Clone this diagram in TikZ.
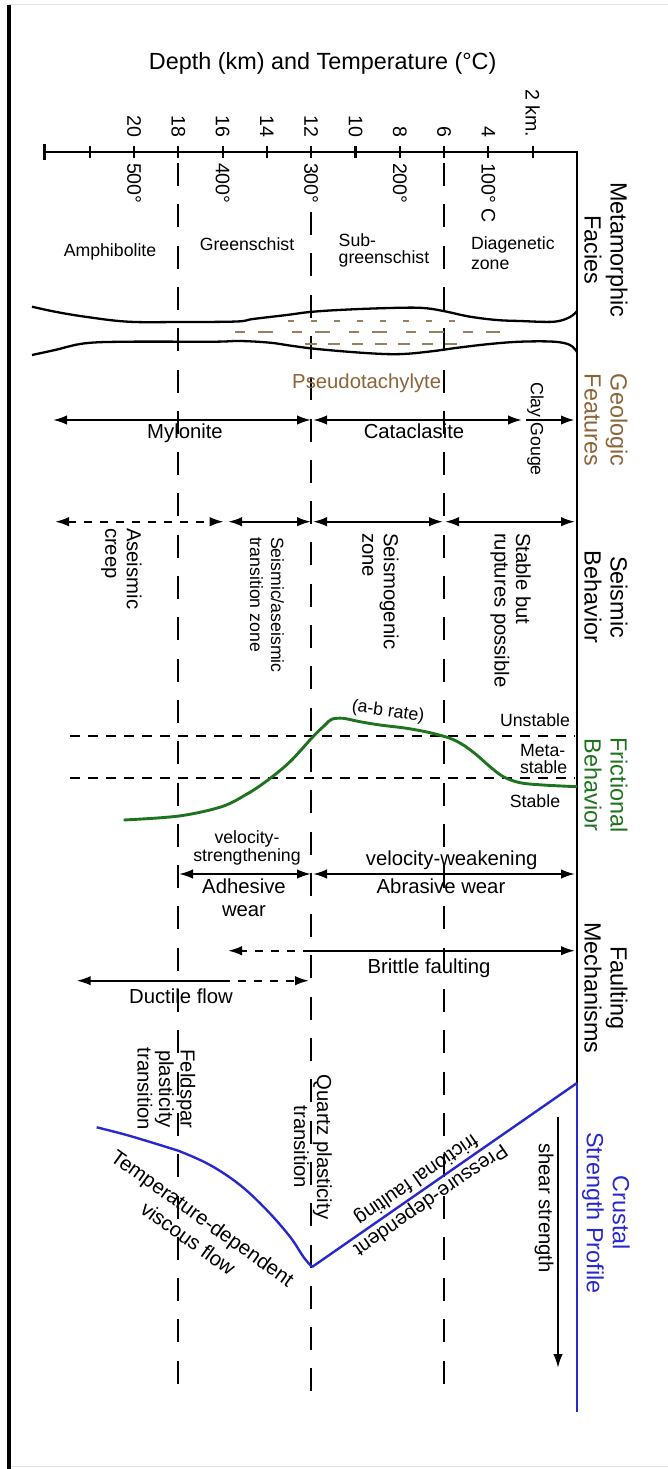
\documentclass[tikz,border=0pt]{standalone}
\usepackage{fontspec}
\setmainfont{Liberation Sans}
\usetikzlibrary{arrows.meta}
\definecolor{geobrown}{RGB}{140,100,55}
\definecolor{dashbrown}{RGB}{150,128,95}
\definecolor{fricgreen}{RGB}{30,115,30}
\definecolor{profblue}{RGB}{40,40,205}
\newcommand\fntA{\fontsize{23.4}{26}\selectfont}
\newcommand\fntB{\fontsize{20.3}{21.5}\selectfont}
\newcommand\fntC{\fontsize{17.7}{17.5}\selectfont}
\newcommand\fntT{\fontsize{19.6}{22}\selectfont}
\begin{document}
\begin{tikzpicture}[x=1pt,y=-1pt,
  >={Latex[length=14pt,width=9.5pt]},
  every node/.style={inner sep=0pt,outer sep=0pt},
  vline/.style={line width=2.3pt,dash pattern=on 23pt off 18.3pt},
  hdash/.style={line width=1.9pt,dash pattern=on 10pt off 8pt},
  arr/.style={line width=2pt},
  adash/.style={dash pattern=on 8pt off 8pt},
  rot/.style={rotate=-90},
  cat/.style={rotate=-90,align=center,font=\fntA},
  lab/.style={font=\fntB},
  sml/.style={font=\fntC},
  tck/.style={font=\fntT,rotate=-90},
  prof/.style={profblue,line width=2.4pt}]
\useasboundingbox (0,0) rectangle (668,1469);
% frame
\draw[gray!22,line width=1pt] (9,5) -- (668,5);
\draw[gray!22,line width=1pt] (9,1466.5) -- (668,1466.5);
\draw[line width=4pt] (9,5) -- (9,1469);
% title
\node[font=\fntA,anchor=base] (title) at (322.7,70) {Depth (km) and Temperature (°C)};
% vertical dashed lines
\coordinate (d18t) at (178.2,163); \coordinate (d18b) at (178.2,1392);
\coordinate (d12t) at (311.1,212); \coordinate (d12b) at (311.1,1394);
\coordinate (d6t) at (444,163);   \coordinate (d6b) at (444,1390);
\draw[vline] (d18t) -- (d18b);
\draw[vline] (d12t) -- (d12b);
\draw[vline] (d6t) -- (d6b);
% axis
\coordinate (ax0) at (44.7,152); \coordinate (axR) at (577,152); \coordinate (axB) at (577,1083);
\draw[line width=2.6pt] (ax0) -- (axR);
\draw[line width=2.1pt] (577,150.8) -- (axB);
\foreach \k in {2,4,...,22} \draw[line width=2.1pt] ({577-22.15*\k},146) -- ++(0,12);
\draw[line width=2.6pt] (44.7,144) -- (44.7,160);
\foreach \k in {20,18,...,4}
  \node[tck,anchor=east] (tk\k) at ({577-22.15*\k},137) {\k};
\node[tck,anchor=east] (tk2) at (532.7,137) {2 km.};
\node[tck,anchor=west] (tc500) at ({577-22.15*20},163) {500°};
\node[tck,anchor=west] (tc400) at ({577-22.15*16},163) {400°};
\node[tck,anchor=west] (tc300) at ({577-22.15*12},163) {300°};
\node[tck,anchor=west] (tc200) at ({577-22.15*8},163) {200°};
\node[tck,anchor=west] (tc100) at ({577-22.15*4},163) {100° C};
% metamorphic facies
\node[sml,anchor=base] (amph) at (110,256.5) {Amphibolite};
\node[sml,anchor=base] (grsc) at (247,250.7) {Greenschist};
\node[sml,align=left,anchor=west] (subg) at (338.7,250.5) {Sub-\\greenschist};
\node[font=\fontsize{17.7}{19.3}\selectfont,align=left,anchor=west] (diag) at (471,253.2) {Diagenetic\\zone};
% category labels
\node[cat] (cMF) at (606,250) {Metamorphic\\Facies};
\node[cat,text=geobrown] (cGF) at (606,420) {Geologic\\Features};
\node[cat] (cSB) at (606,597) {Seismic\\Behavior};
\node[cat,text=fricgreen] (cFB) at (606,785) {Frictional\\Behavior};
\node[cat] (cFM) at (606,988) {Faulting\\Mechanisms};
\node[cat,text=profblue] (cCS) at (606,1213) {Crustal\\Strength Profile};
% fault zone
\draw[line width=2.3pt] plot[smooth,tension=0.6] coordinates {(32,306.7) (55,311.7) (85,316.7) (128,321.7) (180,322) (236.7,321.5) (253,319) (286.7,315) (313,311.7) (353,309.3) (403,307.7) (426.7,308.3) (446.7,311.7) (470,316.7) (496.7,320) (520,321) (554,321.7) (570,317) (577,311)};
\draw[line width=2.3pt] plot[smooth,tension=0.6] coordinates {(32,355) (55,350) (85,343.3) (128,341.7) (213,341.7) (240,341) (270,342.7) (293,346) (320,349.3) (370,353.3) (403,354) (436.7,350.7) (453.3,348.3) (486.7,344.3) (520,341.7) (554,341.7) (570,345) (577,352)};
\draw[dashbrown,line width=1.9pt,dash pattern=on 6pt off 17pt] (288,320.7) -- (462,320.7);
\draw[dashbrown,line width=1.9pt,dash pattern=on 10pt off 13pt on 15pt off 19pt] (235,331.7) -- (500,331.7);
\draw[dashbrown,line width=1.9pt,dash pattern=on 11.7pt off 11.6pt] (305,344) -- (463,344);
% geologic features
\node[lab,text=geobrown,anchor=base] (pseudo) at (366.7,388) {Pseudotachylyte};
\coordinate (gm1) at (53,420); \coordinate (gm2) at (311,420);
\coordinate (gc1) at (313,420); \coordinate (gc2) at (522,420);
\coordinate (gg1) at (526,420); \coordinate (gg2) at (575,420);
\draw[arr,<->] (gm1) -- (gm2);
\draw[arr,<->] (gc1) -- (gc2);
\draw[line width=2.6pt,->] (gg1) -- (gg2);
\node[lab,anchor=base] (mylo) at (185,438) {Mylonite};
\node[lab,anchor=base] (cata) at (414,438) {Cataclasite};
\node[sml,rot] (clay) at (535.5,429) {Clay Gouge};
% seismic behavior
\coordinate (s1) at (55,521.7); \coordinate (s2) at (223.7,521.7);
\coordinate (s3) at (228,521.7); \coordinate (s4) at (311,521.7);
\coordinate (s5) at (313,521.7); \coordinate (s6) at (443,521.7);
\coordinate (s7) at (445,521.7); \coordinate (s8) at (575,521.7);
\draw[arr,adash,<->] (s1) -- (s2);
\draw[arr,<->] (s3) -- (s4);
\draw[arr,<->] (s5) -- (s6);
\draw[arr,<->] (s7) -- (s8);
\node[lab,rot,align=left,anchor=west] (asc) at (121.4,528) {Aseismic\\creep};
\node[sml,rot,align=left,anchor=west,font=\fontsize{17.7}{21}\selectfont] (sat) at (267,537) {Seismic/aseismic\\transition zone};
\node[lab,rot,align=left,anchor=west] (sgz) at (380.3,533) {Seismogenic\\zone};
\node[lab,rot,align=left,anchor=west] (sbr) at (510.5,533) {Stable but\\ruptures possible};
% frictional behavior
\draw[hdash] (70,736) -- (575,736);
\draw[hdash] (70,778) -- (575,778);
\node[sml,anchor=base] (unst) at (535,726) {Unstable};
\node[sml,align=left,anchor=west] (meta) at (520,759) {Meta-\\stable};
\node[sml,anchor=base] (stab) at (535,807) {Stable};
\node[sml,rotate=-8] (abr) at (388,711.7) {(a-b rate)};
\draw[fricgreen,line width=2.9pt] plot[smooth,tension=0.55] coordinates {(123.6,820) (179,816) (221.6,806.7) (247,794) (268,780) (290,761.7) (313,736.7) (325,725) (331.7,719.3) (343,718.3) (360,721.7) (380,725) (406.7,728.3) (430,732.7) (450,738.3) (463.3,745) (476.7,755) (490,766.7) (503.3,776.7) (520,782.7) (543,785) (577,786.7)};
\node[font=\fontsize{17.7}{18.4}\selectfont,align=center] (vst) at (247,848) {velocity-\\strengthening};
\node[lab,anchor=base] (vwk) at (451.6,865) {velocity-weakening};
\coordinate (w1) at (179,874); \coordinate (w2) at (311,874);
\coordinate (w3) at (313,874); \coordinate (w4) at (575,874);
\draw[arr,<->] (w1) -- (w2);
\draw[arr,<->] (w3) -- (w4);
\node[font=\fontsize{20.3}{23.3}\selectfont,align=center] (adh) at (244,897.6) {Adhesive\\wear};
\node[lab,anchor=base] (abw) at (441,893.3) {Abrasive wear};
% faulting mechanisms
\coordinate (b0) at (311,950.7); \coordinate (bL) at (228,950.7); \coordinate (bR) at (575,950.7);
\draw[arr,adash,->] (b0) -- (bL);
\draw[arr,->] (b0) -- (bR);
\node[lab,anchor=base] (brit) at (429,973.3) {Brittle faulting};
\coordinate (f0) at (221.6,980.7); \coordinate (fL) at (76.7,980.7); \coordinate (fR) at (309,980.7);
\draw[arr,->] (f0) -- (fL);
\draw[arr,adash,->] (f0) -- (fR);
\node[lab,anchor=base] (duct) at (181,1003.3) {Ductile flow};
\node[lab,rot,align=center] (feld) at (166.3,1089) {Feldspar\\plasticity\\transition};
\node[lab,rot,align=center,font=\fontsize{20.3}{23}\selectfont] (qtz) at (313,1147) {Quartz plasticity\\transition};
% crustal strength profile
\coordinate (cs0) at (577,1083); \coordinate (csv) at (312,1267); \coordinate (csb) at (577,1412);
\draw[prof] (cs0) -- (csv);
\draw[prof] plot[smooth,tension=0.6] coordinates {(96.7,1127.3) (126.7,1135) (160,1145) (178.3,1150.7) (210,1165) (240,1185) (266.7,1210) (290,1236.7) (303.3,1256.7) (312,1267)};
\draw[prof] (cs0) -- (csb);
\coordinate (sh1) at (558,1117); \coordinate (sh2) at (558,1368);
\draw[arr,->] (sh1) -- (sh2);
\node[lab,rot] (shear) at (544,1208) {shear strength};
\node[font=\fontsize{20}{25}\selectfont,rotate=-145.4,align=center] (pdf) at (423,1189) {Pressure-dependent\\frictional faulting};
\node[font=\fontsize{20.5}{25}\selectfont,rotate=-35.5,align=center] (tdv) at (195.5,1228) {Temperature-dependent\\viscous flow};
\end{tikzpicture}
\end{document}
